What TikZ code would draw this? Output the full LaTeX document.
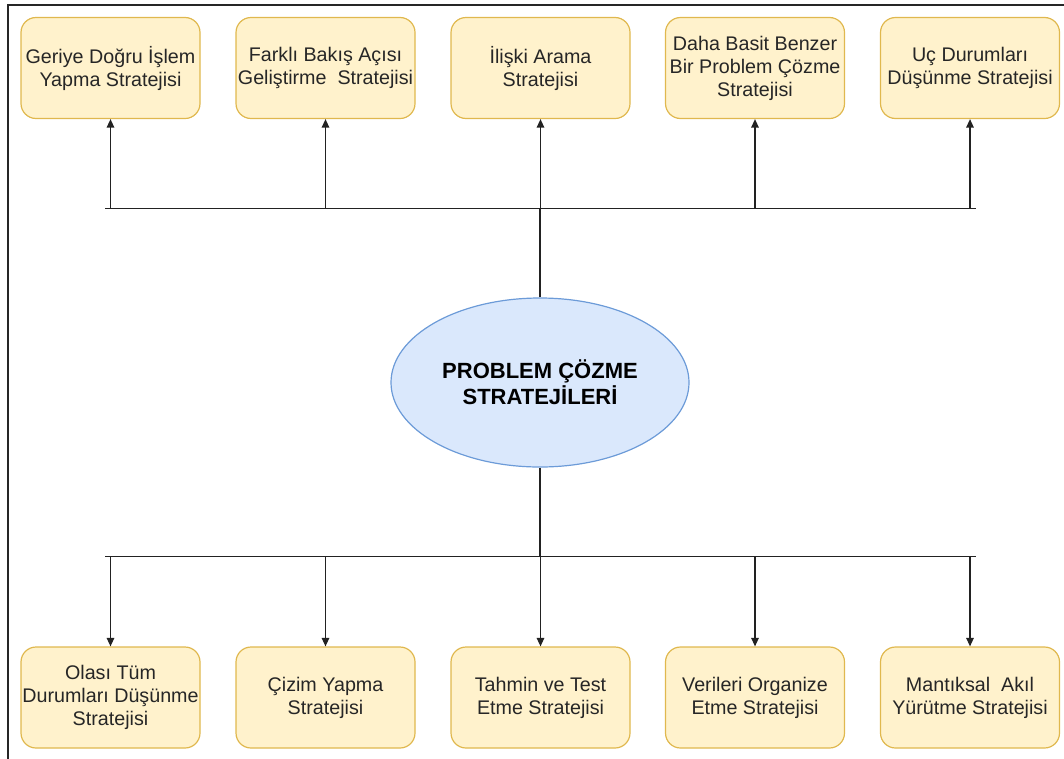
\documentclass[tikz,border=0pt]{standalone}
\usepackage{fontspec}
\setmainfont{Liberation Sans}
\usetikzlibrary{arrows.meta,shapes.geometric}
\definecolor{boxfill}{HTML}{FFF2CC}
\definecolor{boxline}{HTML}{E0B84E}
\definecolor{ellfill}{HTML}{DAE8FC}
\definecolor{ellline}{HTML}{6C9BD8}
\definecolor{conn}{HTML}{222222}
\tikzset{
  stratbox/.style={draw=boxline, fill=boxfill, line width=1.2pt, rounded corners=15pt,
    minimum width=179pt, minimum height=101pt, inner sep=0pt, align=center,
    font=\fontsize{19.7}{23}\selectfont, text=black!85},
  centerell/.style={ellipse, draw=ellline, fill=ellfill, line width=1.2pt,
    minimum width=298pt, minimum height=169pt, inner sep=0pt, align=center,
    font=\fontsize{22}{26}\selectfont\bfseries},
  conline/.style={draw=conn, line width=1.3pt},
  arr/.style={conline, -{Triangle[length=8.5pt,width=7.5pt]}},
}
\begin{document}
\begin{tikzpicture}[x=1pt,y=-1pt]
\useasboundingbox (0,0) rectangle (1064,758);
\clip (0,0) rectangle (1064,758);
\draw[line width=2.2pt, black!85] (8,5) rectangle (1080,780);

\node[stratbox] (t1) at (110.5,68) {Geriye Doğru İşlem\\Yapma Stratejisi};
\node[stratbox] (t2) at (325.5,68) {Farklı Bakış Açısı\\Geliştirme\ \ Stratejisi};
\node[stratbox] (t3) at (540.5,68) {İlişki Arama\\Stratejisi};
\node[stratbox] (t4) at (755,68) {Daha Basit Benzer\\Bir Problem Çözme\\Stratejisi};
\node[stratbox] (t5) at (970,68) {Uç Durumları\\Düşünme Stratejisi};

\node[stratbox] (b1) at (110.5,697.5) {Olası Tüm\\Durumları Düşünme\\Stratejisi};
\node[stratbox] (b2) at (325.5,697.5) {Çizim Yapma\\Stratejisi};
\node[stratbox] (b3) at (540.5,697.5) {Tahmin ve Test\\Etme Stratejisi};
\node[stratbox] (b4) at (755,697.5) {Verileri Organize\\Etme Stratejisi};
\node[stratbox] (b5) at (970,697.5) {Mantıksal\ \ Akıl\\Yürütme Stratejisi};

\node[centerell] (c) at (540,382.5) {PROBLEM ÇÖZME\\STRATEJİLERİ};

\coordinate (tl) at (105,208.5);
\coordinate (tr) at (976,208.5);
\coordinate (bl) at (105,556.5);
\coordinate (br) at (976,556.5);

\draw[conline] (tl) -- (tr);
\draw[conline] (bl) -- (br);
\draw[conline] (c.north) -- (c.north |- tl);
\draw[conline] (c.south) -- (c.south |- bl);

\foreach \n in {t1,t2,t3,t4,t5}
  \draw[arr] (\n.south |- tl) -- (\n.south);
\foreach \n in {b1,b2,b3,b4,b5}
  \draw[arr] (\n.north |- bl) -- (\n.north);
\end{tikzpicture}
\end{document}
